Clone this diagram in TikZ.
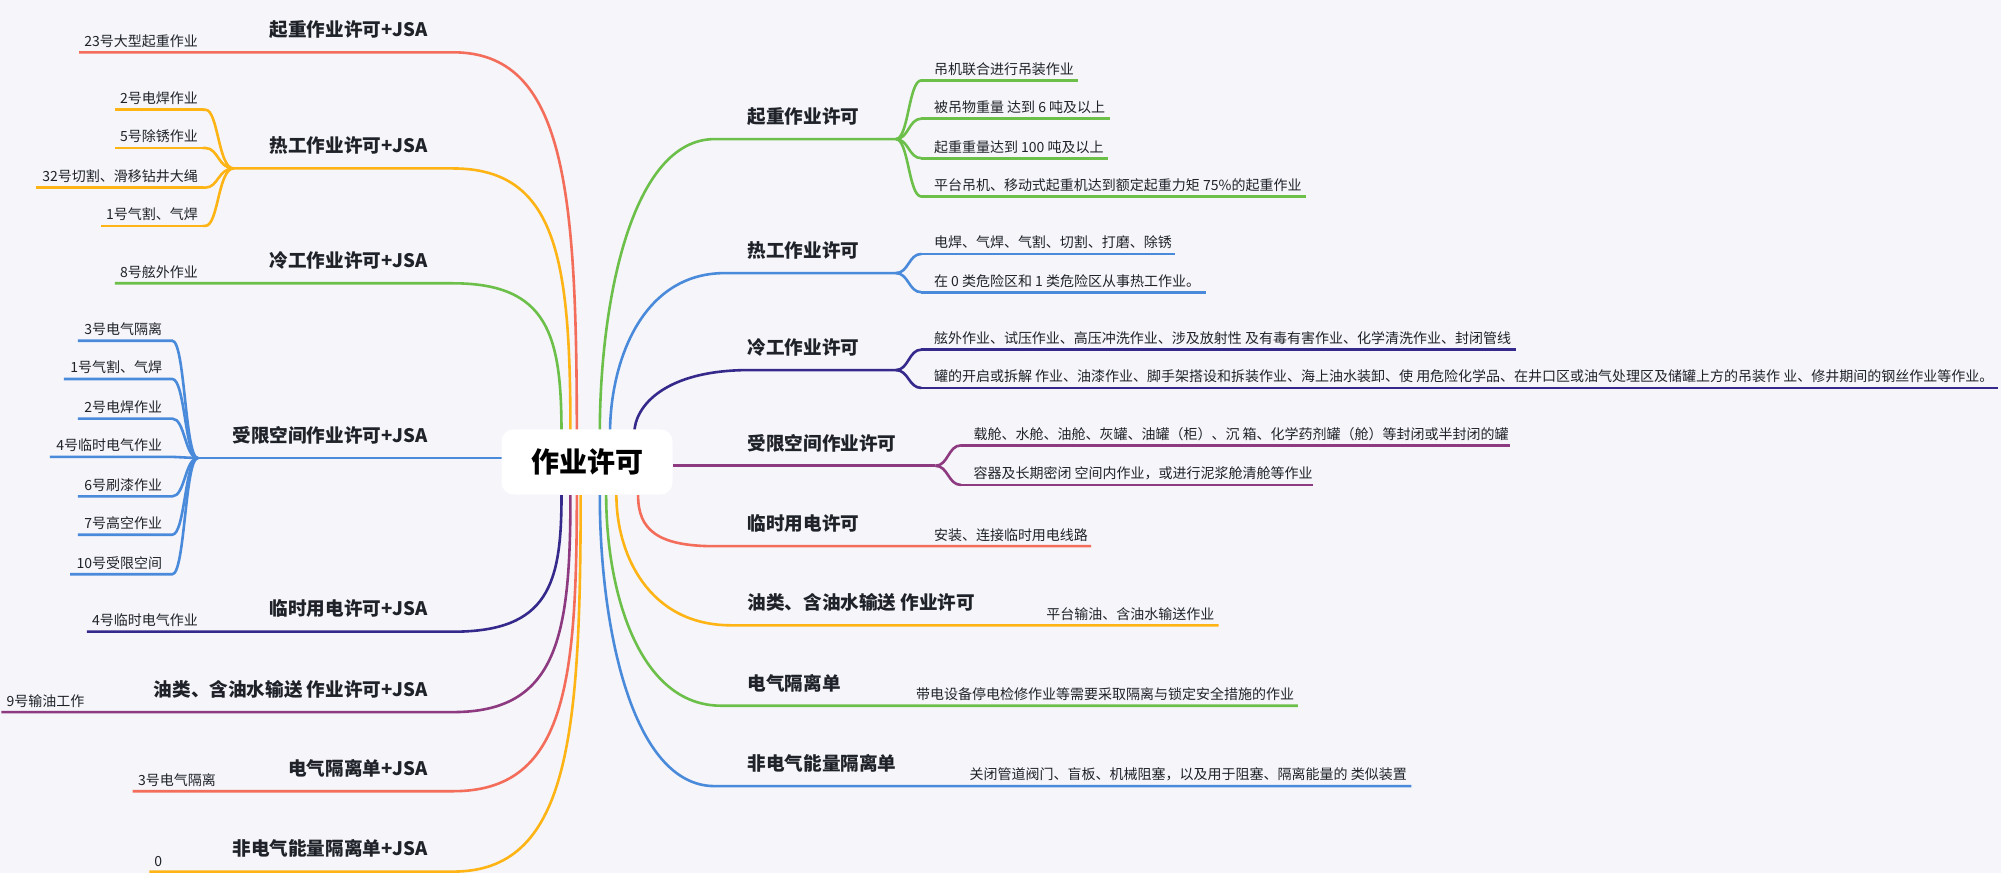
\documentclass[tikz,border=0pt]{standalone}
\usepackage{fontspec}
\setmainfont{Noto Sans CJK SC}
\definecolor{bg}{HTML}{F5F5FA}
\definecolor{cR}{HTML}{F36D5A}
\definecolor{cO}{HTML}{FDB414}
\definecolor{cG}{HTML}{6CC04A}
\definecolor{cB}{HTML}{4A8ADB}
\definecolor{cN}{HTML}{35298C}
\definecolor{cP}{HTML}{8E3A80}
\definecolor{tx}{HTML}{1F2329}
\tikzset{
 br/.style={line width=1.3pt},
 lf/.style={inner sep=1pt,font=\fontsize{7}{8}\selectfont,text=tx},
 lb/.style={inner sep=1pt,font=\fontsize{9.3}{11}\selectfont\bfseries,text=tx},
}
% left branch with leaf line: color, y, leftx, label, center-x, center-y
\newcommand\LB[6]{%
 \draw[br,#1] (#3,#2) -- (355,#2) .. controls (#5-10,#2) and (#5,#2+0.35*#6-0.35*#2) .. (#5,#6);
 \node[lb,anchor=south east] at (337,#2-9) {#4};}
\newcommand\LLeaf[4]{% color y xstart text (xend=160)
 \draw[br,#1] (#3,#2) -- (160,#2);
 \node[lf,anchor=south east] at (157,#2-2) {#4};}
\newcommand\RB[6]{% color y rightx label startx starty
 \draw[br,#1] (#5,#6) .. controls (#5,#6+0.45*#2-0.45*#6) and (#5+25,#2) .. (#5+90,#2) -- (#3,#2);
 \node[lb,anchor=south west] at (584,#2-9) {#4};}
\newcommand\RLeaf[5]{% color y fanx xend text
 \draw[br,#1] (#3,#2) -- (#4,#2);
 \node[lf,anchor=south west] at (#3+8,#2-2) {#5};}
\newcommand\LFan[4]{% color fx fy leafy
 \draw[br,#1] (#2,#3) .. controls (#2-12,#3) and (#2-12,#4) .. (#2-22,#4) -- (#2-24,#4);}
\newcommand\RFan[4]{% color fx fy leafy
 \draw[br,#1] (#2,#3) .. controls (#2+10,#3) and (#2+10,#4) .. (#2+20,#4);}
\begin{document}
\begin{tikzpicture}[x=0.6381pt,y=-0.6381pt]
\fill[bg] (0,0) rectangle (1568,684);
\useasboundingbox (0,0) rectangle (1568,684);
% ---------- left ----------
\LB{cR}{41}{62}{起重作业许可+JSA}{452}{340}
\node[lf,anchor=south east] at (157,39) {23号大型起重作业};
\LB{cO}{132}{183}{热工作业许可+JSA}{447}{340}
\foreach \yy/\xs/\t in {86/90/2号电焊作业,116/90/5号除锈作业,147/28/32号切割、滑移钻井大绳,177/79/1号气割、气焊}{
 \LFan{cO}{183}{132}{\yy}\LLeaf{cO}{\yy}{\xs}{\t}}
\LB{cG}{222}{90}{冷工作业许可+JSA}{440}{340}
\node[lf,anchor=south east] at (157,220) {8号舷外作业};
\draw[br,cB] (155,359) -- (393,359);
\node[lb,anchor=south east] at (337,350) {受限空间作业许可+JSA};
\foreach \yy/\xs/\t in {267/61/3号电气隔离,297/50/1号气割、气焊,328/61/2号电焊作业,358/39/4号临时电气作业,389/61/6号刷漆作业,419/61/7号高空作业,450/55/10号受限空间}{
 \draw[br,cB] (155,359) .. controls (145,359) and (145,\yy) .. (135,\yy) -- (\xs,\yy);
 \node[lf,anchor=south east] at (129,\yy-2) {\t};}
\LB{cN}{495}{68}{临时用电许可+JSA}{440}{388}
\node[lf,anchor=south east] at (157,493) {4号临时电气作业};
\LB{cP}{558}{1}{油类、含油水输送 作业许可+JSA}{447}{388}
\node[lf,anchor=south east] at (68,556) {9号输油工作};
\LB{cR}{620}{104}{电气隔离单+JSA}{452}{388}
\node[lf,anchor=south east] at (171,618) {3号电气隔离};
\LB{cO}{683}{117}{非电气能量隔离单+JSA}{455}{388}
\node[lf,anchor=south east] at (129,681) {0};
% ---------- right ----------
\RB{cG}{109}{702}{起重作业许可}{470}{340}
\foreach \yy/\xe/\t in {63/845/吊机联合进行吊装作业,93/870/被吊物重量 达到 6 吨及以上,124/868/起重重量达到 100 吨及以上,154/1023/平台吊机、移动式起重机达到额定起重力矩 75\%的起重作业}{
 \RFan{cG}{702}{109}{\yy}\RLeaf{cG}{\yy}{722}{\xe}{\t}}
\RB{cB}{214}{702}{热工作业许可}{478}{340}
\foreach \yy/\xe/\t in {199/921/电焊、气焊、气割、切割、打磨、除锈,229/945/在 0 类危险区和 1 类危险区从事热工作业。}{
 \RFan{cB}{702}{214}{\yy}\RLeaf{cB}{\yy}{722}{\xe}{\t}}
\RB{cN}{290}{702}{冷工作业许可}{497}{340}
\foreach \yy/\xe/\t in {274/1188/舷外作业、试压作业、高压冲洗作业、涉及放射性 及有毒有害作业、化学清洗作业、封闭管线,304/1566/罐的开启或拆解 作业、油漆作业、脚手架搭设和拆装作业、海上油水装卸、使 用危险化学品、在井口区或油气处理区及储罐上方的吊装作 业、修井期间的钢丝作业等作业。}{
 \RFan{cN}{702}{290}{\yy}\RLeaf{cN}{\yy}{722}{\xe}{\t}}
\draw[br,cP] (527,365) -- (733,365);
\node[lb,anchor=south west] at (584,356) {受限空间作业许可};
\foreach \yy/\xe/\t in {349/1183/载舱、水舱、油舱、灰罐、油罐（柜）、沉 箱、化学药剂罐（舱）等封闭或半封闭的罐,380/1029/容器及长期密闭 空间内作业，或进行泥浆舱清舱等作业}{
 \RFan{cP}{733}{365}{\yy}\RLeaf{cP}{\yy}{753}{\xe}{\t}}
\draw[br,cR] (500,388) .. controls (500,415) and (515,428) .. (560,428) -- (855,428);
\node[lb,anchor=south west] at (584,419) {临时用电许可};
\node[lf,anchor=south west] at (730,426) {安装、连接临时用电线路};
\RB{cO}{490}{955}{油类、含油水输送 作业许可}{483}{388}
\node[lf,anchor=south west] at (818,488) {平台输油、含油水输送作业};
\RB{cG}{553}{1017}{电气隔离单}{475}{388}
\node[lf,anchor=south west] at (716,551) {带电设备停电检修作业等需要采取隔离与锁定安全措施的作业};
\RB{cB}{616}{1106}{非电气能量隔离单}{470}{388}
\node[lf,anchor=south west] at (758,614) {关闭管道阀门、盲板、机械阻塞，以及用于阻塞、隔离能量的 类似装置};
% center
\node[fill=white,rounded corners=6pt,minimum width=134*0.6381pt,minimum height=51*0.6381pt,font=\fontsize{14}{16}\selectfont\bfseries,text=black] (c) at (460,362) {作业许可};
\end{tikzpicture}
\end{document}
